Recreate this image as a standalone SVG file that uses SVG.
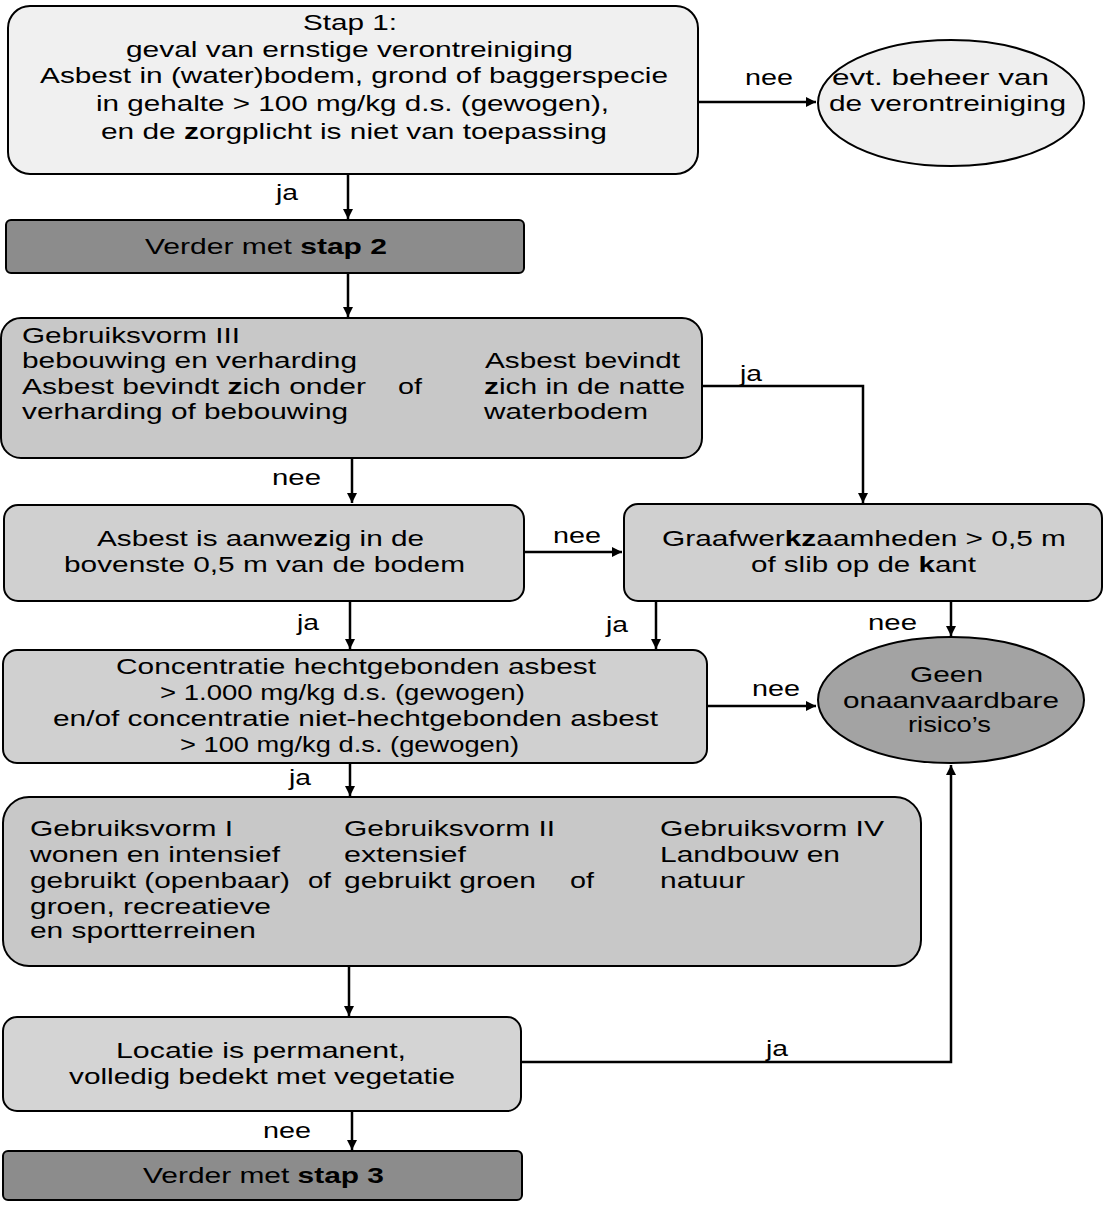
<svg xmlns="http://www.w3.org/2000/svg" width="1106" height="1207" viewBox="0 0 1106 1207">
<defs>
<marker id="ah" viewBox="0 0 10 10" refX="10" refY="5" markerWidth="4" markerHeight="4" orient="auto" markerUnits="strokeWidth">
<path d="M0,0 L10,5 L0,10 z" fill="#000"/>
</marker>
<style>
.box{stroke:#000;stroke-width:2}
.t{font-family:"Liberation Sans",Arial,sans-serif;font-size:22px;fill:#000}
.c{fill:none;stroke:#000;stroke-width:2.5;marker-end:url(#ah)}
</style>
</defs>
<rect width="1106" height="1207" fill="#fff"/>

<g id="connectors">
<path class="c" d="M698,102 H816"/>
<path class="c" d="M348,174 V219"/>
<path class="c" d="M348,273 V317"/>
<path class="c" d="M702,386 H863 V503"/>
<path class="c" d="M352,458 V503"/>
<path class="c" d="M524,552 H622"/>
<path class="c" d="M350,601 V649"/>
<path class="c" d="M656,601 V649"/>
<path class="c" d="M951,601 V636"/>
<path class="c" d="M707,706 H816"/>
<path class="c" d="M350,763 V796"/>
<path class="c" d="M349,966 V1016"/>
<path class="c" d="M521,1062 H951 V765"/>
<path class="c" d="M352,1111 V1150"/>
<g class="t">
<text x="745" y="85" textLength="48" lengthAdjust="spacingAndGlyphs">nee</text>
<text x="276" y="200" textLength="22" lengthAdjust="spacingAndGlyphs">ja</text>
<text x="740" y="381" textLength="22" lengthAdjust="spacingAndGlyphs">ja</text>
<text x="272" y="485" textLength="49" lengthAdjust="spacingAndGlyphs">nee</text>
<text x="553" y="543" textLength="48" lengthAdjust="spacingAndGlyphs">nee</text>
<text x="297" y="630" textLength="22" lengthAdjust="spacingAndGlyphs">ja</text>
<text x="606" y="632" textLength="22" lengthAdjust="spacingAndGlyphs">ja</text>
<text x="868" y="630" textLength="49" lengthAdjust="spacingAndGlyphs">nee</text>
<text x="752" y="696" textLength="48" lengthAdjust="spacingAndGlyphs">nee</text>
<text x="289" y="785" textLength="22" lengthAdjust="spacingAndGlyphs">ja</text>
<text x="766" y="1056" textLength="22" lengthAdjust="spacingAndGlyphs">ja</text>
<text x="263" y="1138" textLength="48" lengthAdjust="spacingAndGlyphs">nee</text>
</g>
</g>

<g id="stap1">
<rect class="box" x="8" y="6" width="690" height="168" rx="22" fill="#f0f0f0"/>
<g class="t">
<text x="303" y="30" textLength="94" lengthAdjust="spacingAndGlyphs">Stap 1:</text>
<text x="126" y="57" textLength="447" lengthAdjust="spacingAndGlyphs">geval van ernstige verontreiniging</text>
<text x="40" y="83" textLength="628" lengthAdjust="spacingAndGlyphs">Asbest in (water)bodem, grond of baggerspecie</text>
<text x="96" y="111" textLength="513" lengthAdjust="spacingAndGlyphs">in gehalte &gt; 100 mg/kg d.s. (gewogen),</text>
<text x="101" y="139" textLength="506" lengthAdjust="spacingAndGlyphs">en de <tspan font-weight="bold">z</tspan>orgplicht is niet van toepassing</text>
</g>
</g>

<g id="beheer">
<ellipse class="box" cx="951" cy="103" rx="133" ry="63" fill="#efefef"/>
<g class="t">
<text x="832" y="85" textLength="217" lengthAdjust="spacingAndGlyphs">evt. beheer van</text>
<text x="829" y="111" textLength="237" lengthAdjust="spacingAndGlyphs">de verontreiniging</text>
</g>
</g>

<g id="stap2">
<rect class="box" x="6" y="220" width="518" height="53" rx="5" fill="#8c8c8c"/>
<text class="t" x="145" y="254" textLength="242" lengthAdjust="spacingAndGlyphs">Verder met <tspan font-weight="bold">stap 2</tspan></text>
</g>

<g id="gebruiksvorm3">
<rect class="box" x="1" y="318" width="701" height="140" rx="20" fill="#c8c8c8"/>
<g class="t">
<text x="22" y="343" textLength="218" lengthAdjust="spacingAndGlyphs">Gebruiksvorm III</text>
<text x="22" y="368" textLength="335" lengthAdjust="spacingAndGlyphs">bebouwing en verharding</text>
<text x="22" y="394" textLength="344" lengthAdjust="spacingAndGlyphs">Asbest bevindt <tspan font-weight="bold">z</tspan>ich onder</text>
<text x="22" y="419" textLength="326" lengthAdjust="spacingAndGlyphs">verharding of bebouwing</text>
<text x="398" y="394" textLength="24" lengthAdjust="spacingAndGlyphs">of</text>
<text x="485" y="368" textLength="195" lengthAdjust="spacingAndGlyphs">Asbest bevindt</text>
<text x="484" y="394" textLength="201" lengthAdjust="spacingAndGlyphs"><tspan font-weight="bold">z</tspan>ich in de natte</text>
<text x="484" y="419" textLength="164" lengthAdjust="spacingAndGlyphs">waterbodem</text>
</g>
</g>

<g id="aanwezig">
<rect class="box" x="4" y="505" width="520" height="96" rx="14" fill="#d0d0d0"/>
<g class="t">
<text x="97" y="546" textLength="327" lengthAdjust="spacingAndGlyphs">Asbest is aanwe<tspan font-weight="bold">z</tspan>ig in de</text>
<text x="64" y="572" textLength="401" lengthAdjust="spacingAndGlyphs">bovenste 0,5 m van de bodem</text>
</g>
</g>

<g id="graafwerk">
<rect class="box" x="624" y="504" width="478" height="97" rx="14" fill="#d0d0d0"/>
<g class="t">
<text x="662" y="546" textLength="404" lengthAdjust="spacingAndGlyphs">Graafwer<tspan font-weight="bold">kz</tspan>aamheden &gt; 0,5 m</text>
<text x="751" y="572" textLength="225" lengthAdjust="spacingAndGlyphs">of slib op de <tspan font-weight="bold">k</tspan>ant</text>
</g>
</g>

<g id="concentratie">
<rect class="box" x="3" y="650" width="704" height="113" rx="14" fill="#d0d0d0"/>
<g class="t">
<text x="116" y="674" textLength="480" lengthAdjust="spacingAndGlyphs">Concentratie hechtgebonden asbest</text>
<text x="160" y="700" textLength="365" lengthAdjust="spacingAndGlyphs">&gt; 1.000 mg/kg d.s. (gewogen)</text>
<text x="53" y="726" textLength="605" lengthAdjust="spacingAndGlyphs">en/of concentratie niet-hechtgebonden asbest</text>
<text x="180" y="752" textLength="339" lengthAdjust="spacingAndGlyphs">&gt; 100 mg/kg d.s. (gewogen)</text>
</g>
</g>

<g id="geen">
<ellipse class="box" cx="951" cy="700" rx="133" ry="63" fill="#a3a3a3"/>
<g class="t">
<text x="910" y="682" textLength="73" lengthAdjust="spacingAndGlyphs">Geen</text>
<text x="843" y="708" textLength="216" lengthAdjust="spacingAndGlyphs">onaanvaardbare</text>
<text x="908" y="732" textLength="83" lengthAdjust="spacingAndGlyphs">risico’s</text>
</g>
</g>

<g id="gebruiksvormen">
<rect class="box" x="3" y="797" width="918" height="169" rx="26" fill="#c8c8c8"/>
<g class="t">
<text x="30" y="836" textLength="203" lengthAdjust="spacingAndGlyphs">Gebruiksvorm I</text>
<text x="30" y="862" textLength="250" lengthAdjust="spacingAndGlyphs">wonen en intensief</text>
<text x="30" y="888" textLength="260" lengthAdjust="spacingAndGlyphs">gebruikt (openbaar)</text>
<text x="30" y="914" textLength="241" lengthAdjust="spacingAndGlyphs">groen, recreatieve</text>
<text x="30" y="938" textLength="226" lengthAdjust="spacingAndGlyphs">en sportterreinen</text>
<text x="308" y="888" textLength="23" lengthAdjust="spacingAndGlyphs">of</text>
<text x="344" y="836" textLength="211" lengthAdjust="spacingAndGlyphs">Gebruiksvorm II</text>
<text x="344" y="862" textLength="122" lengthAdjust="spacingAndGlyphs">extensief</text>
<text x="344" y="888" textLength="192" lengthAdjust="spacingAndGlyphs">gebruikt groen</text>
<text x="570" y="888" textLength="24" lengthAdjust="spacingAndGlyphs">of</text>
<text x="660" y="836" textLength="224" lengthAdjust="spacingAndGlyphs">Gebruiksvorm IV</text>
<text x="660" y="862" textLength="180" lengthAdjust="spacingAndGlyphs">Landbouw en</text>
<text x="660" y="888" textLength="85" lengthAdjust="spacingAndGlyphs">natuur</text>
</g>
</g>

<g id="locatie">
<rect class="box" x="3" y="1017" width="518" height="94" rx="14" fill="#d4d4d4"/>
<g class="t">
<text x="116" y="1058" textLength="290" lengthAdjust="spacingAndGlyphs">Locatie is permanent,</text>
<text x="69" y="1084" textLength="386" lengthAdjust="spacingAndGlyphs">volledig bedekt met vegetatie</text>
</g>
</g>

<g id="stap3">
<rect class="box" x="3" y="1151" width="519" height="49" rx="5" fill="#8c8c8c"/>
<text class="t" x="143" y="1183" textLength="241" lengthAdjust="spacingAndGlyphs">Verder met <tspan font-weight="bold">stap 3</tspan></text>
</g>
</svg>
